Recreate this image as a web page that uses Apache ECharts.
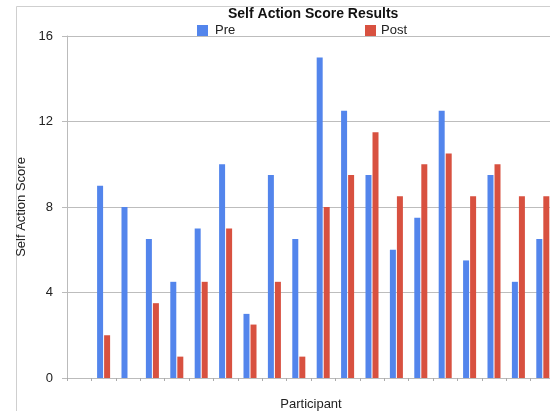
<!DOCTYPE html>
<html>
<head>
<meta charset="utf-8">
<script src="https://cdn.jsdelivr.net/npm/echarts@6/dist/echarts.min.js"></script>
<style>
  html, body { margin: 0; padding: 0; background: #fff; }
  #chart { width: 550px; height: 411px; }
</style>
</head>
<body>
<div id="chart"></div>
<script>
// Participants (first slot has no recorded scores)
const participants = ['1','2','3','4','5','6','7','8','9','10','11','12','13','14','15','16','17','18','19','20'];
const preScores  = [null, 9, 8, 6.5, 4.5, 7, 10, 3, 9.5, 6.5, 15, 12.5, 9.5, 6, 7.5, 12.5, 5.5, 9.5, 4.5, 6.5];
const postScores = [null, 2, 0, 3.5, 1, 4.5, 7, 2.5, 4.5, 1, 8, 9.5, 11.5, 8.5, 10, 10.5, 8.5, 10, 8.5, 8.5];
const yTicks = { min: 0, max: 16, step: 4 };

const FONT = 'Liberation Sans, Arial, sans-serif';
const chart = echarts.init(document.getElementById('chart'), null, { renderer: 'canvas' });

chart.setOption({
  animation: false,
  backgroundColor: '#fff',
  textStyle: { fontFamily: FONT },
  title: {
    text: 'Self Action Score Results',
    left: 223, top: 2,
    textStyle: { fontFamily: FONT, fontSize: 14, fontWeight: 'bold', color: '#111' }
  },
  legend: [
    { data: ['Pre'], left: 192, top: 19, itemWidth: 11, itemHeight: 11, icon: 'rect',
      textStyle: { fontFamily: FONT, fontSize: 13, color: '#222', padding: [0, 0, 0, 2] } },
    { data: ['Post'], left: 360, top: 19, itemWidth: 11, itemHeight: 11, icon: 'rect',
      textStyle: { fontFamily: FONT, fontSize: 13, color: '#222' } }
  ],
  // outer chart frame; its right and bottom edges sit off the canvas
  graphic: [
    { type: 'rect', left: 14, top: 4, silent: true,
      shape: { x: 0, y: 0, width: 700, height: 600 },
      style: { fill: 'none', stroke: '#cfcfcf', lineWidth: 1 } }
  ],
  grid: { left: 67, top: 36, width: 488, height: 342, containLabel: false, outerBoundsMode: 'none' },
  xAxis: {
    type: 'category',
    data: participants,
    name: 'Participant',
    nameLocation: 'middle',
    nameGap: 20,
    nameTextStyle: { fontFamily: FONT, fontSize: 13, color: '#222' },
    axisLine: { lineStyle: { color: '#bbb' } },
    axisTick: { show: true, length: 3, lineStyle: { color: '#aaa' } },
    axisLabel: { show: false },
    splitLine: { show: false }
  },
  yAxis: {
    type: 'value',
    min: yTicks.min, max: yTicks.max, interval: yTicks.step,
    name: 'Self Action Score',
    nameLocation: 'middle',
    nameGap: 38,
    nameTextStyle: { fontFamily: FONT, fontSize: 13, color: '#222' },
    axisLine: { show: true, lineStyle: { color: '#bbb' } },
    axisTick: { show: true, length: 5, lineStyle: { color: '#bbb' } },
    axisLabel: { fontFamily: FONT, fontSize: 13, color: '#222', margin: 14 },
    splitLine: { show: true, lineStyle: { color: '#bdbdbd' } }
  },
  series: [
    { name: 'Pre', type: 'bar', data: preScores, barWidth: 6, barGap: '17%',
      itemStyle: { color: '#5385EC' } },
    { name: 'Post', type: 'bar', data: postScores, barWidth: 6,
      itemStyle: { color: '#D85140' } }
  ]
});
</script>
</body>
</html>
